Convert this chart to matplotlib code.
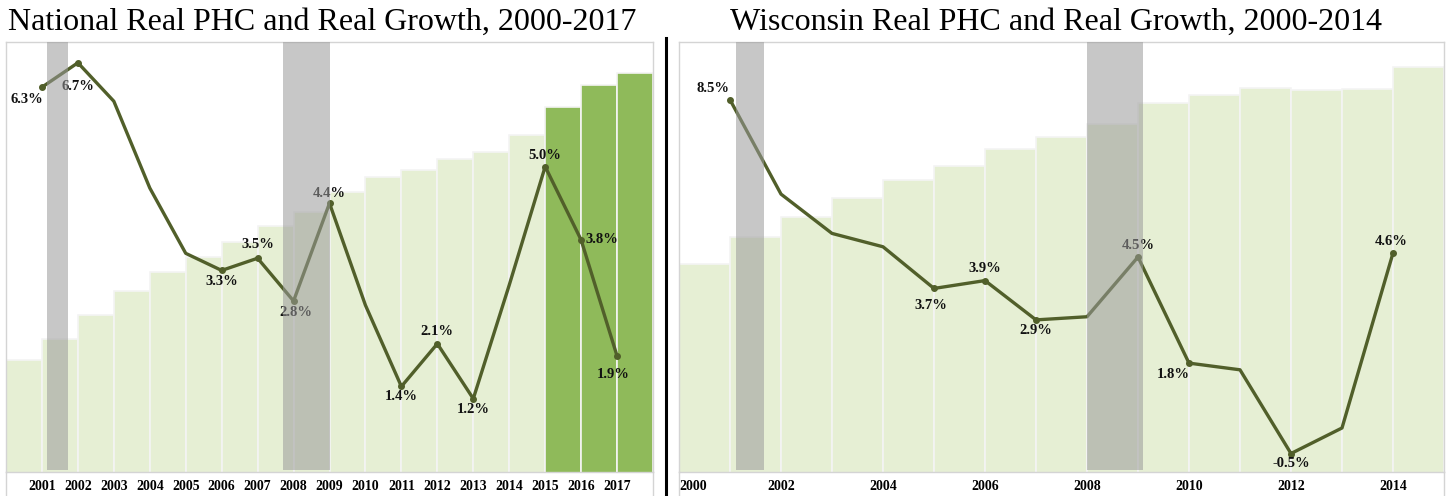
import matplotlib
matplotlib.use("Agg")
import matplotlib.pyplot as plt
from matplotlib.lines import Line2D

# ---------------- data ----------------
nat_years = list(range(2000, 2018))
nat_phc = [100.0, 106.3, 113.5, 120.7, 126.4, 130.9, 135.4, 140.2, 144.4,
           150.5, 155.0, 157.1, 160.4, 162.5, 167.6, 176.0, 182.6, 186.2]
nat_growth_years = list(range(2001, 2018))
nat_growth = [6.3, 6.7, 6.07, 4.65, 3.58, 3.3, 3.5, 2.8, 4.4,
              2.73, 1.4, 2.1, 1.2, 3.06, 5.0, 3.8, 1.9]
nat_labeled = {2001: "6.3%", 2002: "6.7%", 2006: "3.3%", 2007: "3.5%",
               2008: "2.8%", 2009: "4.4%", 2011: "1.4%", 2012: "2.1%",
               2013: "1.2%", 2015: "5.0%", 2016: "3.8%", 2017: "1.9%"}
nat_highlight = [2015, 2016, 2017]
nat_recessions = [(2001.14, 2001.72), (2007.72, 2009.0)]
nat_ticks = list(range(2001, 2018))

wi_years = list(range(2000, 2015))
wi_phc = [100.0, 108.5, 114.8, 120.8, 126.4, 130.8, 136.2, 139.9, 144.0,
          150.6, 153.1, 155.3, 154.7, 155.0, 161.9]
wi_growth_years = list(range(2001, 2015))
wi_growth = [8.5, 6.1, 5.1, 4.76, 3.7, 3.9, 2.9, 2.98, 4.5,
             1.8, 1.63, -0.5, 0.15, 4.6]
wi_labeled = {2001: "8.5%", 2005: "3.7%", 2006: "3.9%", 2007: "2.9%",
              2009: "4.5%", 2010: "1.8%", 2012: "-0.5%", 2014: "4.6%"}
wi_recessions = [(2001.12, 2001.67), (2008.0, 2009.1)]
wi_ticks = list(range(2000, 2015, 2))

# ---------------- style ----------------
LIGHT = "#e6efd4"
DARK = "#8fba5a"
LINE = "#515f2a"
BAND = "#9a9a9a"
BORDER = "#d4d4d4"
SERIF = ["Liberation Serif", "DejaVu Serif"]

W, H = 1450, 496
fig = plt.figure(figsize=(W / 100, H / 100), dpi=100)


def px_axes(x0, x1, ytop, ybot):
    return fig.add_axes([x0 / W, 1 - ybot / H, (x1 - x0) / W, (ybot - ytop) / H])


def draw_panel(ax, years, phc, highlight, gyears, growth, labeled, offsets,
               recessions, ticks, xlim, bar_ylim, line_ylim, tickfs):
    colors = [DARK if y in highlight else LIGHT for y in years]
    ax.bar(years, phc, width=1.0, align="edge", color=colors,
           edgecolor="#f4f4f4", linewidth=1.2, zorder=2)
    ax.set_xlim(*xlim)
    ax.set_ylim(*bar_ylim)
    ax.set_yticks([])
    ax.set_xticks(ticks)
    ax.set_xticklabels([str(t) for t in ticks], fontfamily=SERIF,
                       fontweight="bold", fontsize=tickfs)
    ax.tick_params(axis="x", length=0, pad=6)
    for s in ax.spines.values():
        s.set_color(BORDER)
        s.set_linewidth(1.0)

    ax2 = ax.twinx()
    ax2.set_ylim(*line_ylim)
    ax2.set_yticks([])
    for s in ax2.spines.values():
        s.set_visible(False)
    ax2.plot(gyears, growth, color=LINE, lw=2.4, zorder=3,
             solid_joinstyle="round")
    lx = [y for y in gyears if y in labeled]
    ly = [growth[gyears.index(y)] for y in lx]
    ax2.plot(lx, ly, "o", color=LINE, ms=4, zorder=3)
    for y in lx:
        v = growth[gyears.index(y)]
        dx, dy, ha = offsets.get(y, (0, 10, "center"))
        ax2.annotate(labeled[y], (y, v), xytext=(dx, dy),
                     textcoords="offset points", ha=ha, va="center",
                     fontfamily=SERIF, fontweight="bold", fontsize=10.5,
                     color="#111111", zorder=4)
    for a, b in recessions:
        ax2.axvspan(a, b, ymin=0.004, ymax=1, color=BAND, alpha=0.55,
                    lw=0, zorder=5)
    return ax2


# left panel
axL = px_axes(6, 653, 42, 472)
nat_off = {2001: (-11, -9, "center"), 2002: (0, -17, "center"),
           2006: (0, -8, "center"), 2007: (0, 10, "center"),
           2008: (2, -8, "center"), 2009: (0, 7, "center"),
           2011: (0, -7, "center"), 2012: (0, 9, "center"),
           2013: (0, -8, "center"), 2015: (0, 8, "center"),
           2016: (3, 0, "left"), 2017: (-3, -13, "center")}
draw_panel(axL, nat_years, nat_phc, nat_highlight, nat_growth_years,
           nat_growth, nat_labeled, nat_off, nat_recessions, nat_ticks,
           (2000, 2018), (66.4, 195.5), (0, 7.04), 10)

# right panel
axR = px_axes(679, 1444, 42, 472)
wi_off = {2001: (-12, 8, "center"), 2005: (-2, -12, "center"),
          2006: (0, 9, "center"), 2007: (0, -8, "center"),
          2009: (0, 8, "center"), 2010: (-11, -8, "center"),
          2012: (0, -7, "center"), 2014: (-1, 8, "center")}
draw_panel(axR, wi_years, wi_phc, [], wi_growth_years, wi_growth,
           wi_labeled, wi_off, wi_recessions, wi_ticks,
           (2000, 2015), (34.9, 169.8), (-0.97, 9.97), 10)
axR.get_xticklabels()[0].set_ha("left")

# border continuation below the axes
for x in (6, 653, 679, 1444):
    fig.add_artist(Line2D([x / W, x / W], [0, 1 - 472 / H], color=BORDER,
                          lw=1.0, transform=fig.transFigure))

# divider
fig.add_artist(Line2D([666 / W, 666 / W], [0, 1 - 38 / H], color="black",
                      lw=2.2, transform=fig.transFigure))

# titles
fig.text(8 / W, 1 - 22 / H, "National Real PHC and Real Growth, 2000-2017",
         fontfamily=SERIF, fontsize=23, va="center", ha="left")
fig.text(730 / W, 1 - 22 / H, "Wisconsin Real PHC and Real Growth, 2000-2014",
         fontfamily=SERIF, fontsize=23, va="center", ha="left")

fig.savefig("out.png", dpi=100, facecolor="white")
